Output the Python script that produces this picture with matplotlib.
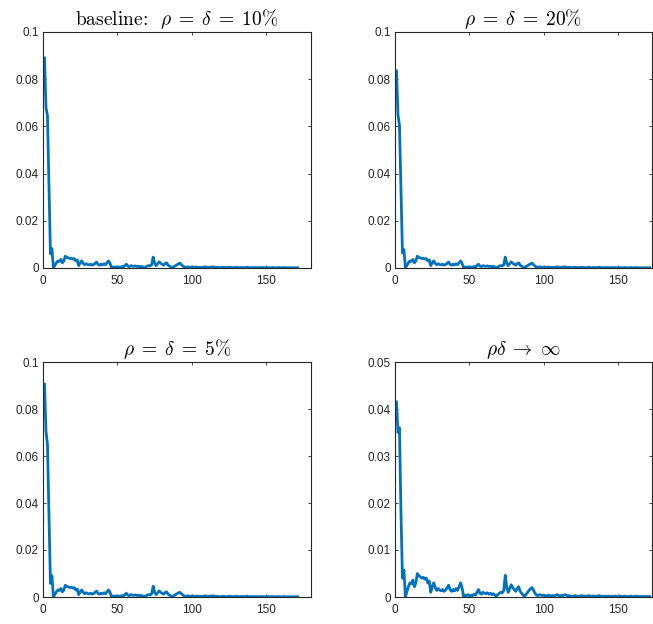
import matplotlib
matplotlib.use("Agg")
import matplotlib.pyplot as plt
import numpy as np

plt.rcParams['mathtext.fontset'] = 'cm'
plt.rcParams['font.family'] = ['Liberation Sans', 'DejaVu Sans']

# Heads (first 7 periods) for each scenario
head_base = [0.0890, 0.0680, 0.0645, 0.0350, 0.0060, 0.0082, 0.0000]
head_20 = [0.0835, 0.0650, 0.0605, 0.0330, 0.0065, 0.0078, 0.0000]
head_5 = [0.0906, 0.0705, 0.0650, 0.0350, 0.0058, 0.0090, 0.0000]
head_inf = [0.0415, 0.0350, 0.0360, 0.0180, 0.0040, 0.0057, 0.0000]

# Tail (periods 8..171), essentially the same in all panels
tail_common = [
    0.0012, 0.0022, 0.0030, 0.0028, 0.0036, 0.0022, 0.0030, 0.0050, 0.0045, 0.0043,
    0.0040, 0.0042, 0.0038, 0.0040, 0.0030, 0.0034, 0.0010, 0.0022, 0.0030, 0.0020,
    0.0014, 0.0018, 0.0015, 0.0013, 0.0016, 0.0012, 0.0015, 0.0020, 0.0025, 0.0015,
    0.0012, 0.0016, 0.0013, 0.0018, 0.0014, 0.0022, 0.0030, 0.0020, 0.0001, 0.0004,
    0.0003, 0.0005, 0.0002, 0.0004, 0.0003, 0.0006, 0.0004, 0.0010, 0.0016, 0.0008,
    0.0006, 0.0010, 0.0008, 0.0007, 0.0009, 0.0006, 0.0008, 0.0005, 0.0007, 0.0004,
    0.0002, 0.0005, 0.0008, 0.0010, 0.0009, 0.0014, 0.0046, 0.0020, 0.0010, 0.0018,
    0.0026, 0.0020, 0.0016, 0.0012, 0.0018, 0.0022, 0.0012, 0.0008, 0.0004, 0.0002,
    0.0006, 0.0010, 0.0014, 0.0018, 0.0020, 0.0014, 0.0008, 0.0004, 0.0003, 0.0005,
    0.0004, 0.0003, 0.0004, 0.0003, 0.0002, 0.0004, 0.0003, 0.0002, 0.0003, 0.0002,
    0.0004, 0.0005, 0.0003, 0.0002, 0.0004, 0.0003, 0.0005, 0.0004, 0.0002, 0.0003,
    0.0002, 0.0001, 0.0002, 0.0003, 0.0002, 0.0001, 0.0002, 0.0003, 0.0002, 0.0002,
    0.0001, 0.0002, 0.0003, 0.0002, 0.0001, 0.0002, 0.0002, 0.0001, 0.0002, 0.0003,
    0.0002, 0.0001, 0.0001, 0.0002, 0.0001, 0.0002, 0.0001, 0.0001, 0.0002, 0.0001,
    0.0002, 0.0001, 0.0001, 0.0002, 0.0001, 0.0001, 0.0002, 0.0001, 0.0001, 0.0001,
    0.0002, 0.0001, 0.0001, 0.0001, 0.0002, 0.0001, 0.0001, 0.0001, 0.0001, 0.0001,
    0.0001, 0.0001, 0.0001, 0.0001,
]

titles = [r'baseline:  $\rho\;=\;\delta\;=\;10\%$',
          r'$\rho\;=\;\delta\;=\;20\%$',
          r'$\rho\;=\;\delta\;=\;5\%$',
          r'$\rho\delta\;\rightarrow\;\infty$']
heads = [head_base, head_20, head_5, head_inf]
ymaxes = [0.1, 0.1, 0.1, 0.05]
yticks_list = [[0, 0.02, 0.04, 0.06, 0.08, 0.1],
               [0, 0.02, 0.04, 0.06, 0.08, 0.1],
               [0, 0.02, 0.04, 0.06, 0.08, 0.1],
               [0, 0.01, 0.02, 0.03, 0.04, 0.05]]
ytick_labels_list = [['0', '0.02', '0.04', '0.06', '0.08', '0.1'],
                     ['0', '0.02', '0.04', '0.06', '0.08', '0.1'],
                     ['0', '0.02', '0.04', '0.06', '0.08', '0.1'],
                     ['0', '0.01', '0.02', '0.03', '0.04', '0.05']]
xticks = [0, 50, 100, 150]
xtick_labels = ['0', '50', '100', '150']

W, H = 653, 624
fig = plt.figure(figsize=(W / 100, H / 100), dpi=100)

positions = [
    (43 / W, 1 - 268 / H, 268 / W, 236 / H, 180),
    (395 / W, 1 - 268 / H, 257 / W, 236 / H, 172.5),
    (43 / W, 1 - 597 / H, 268 / W, 235 / H, 180),
    (395 / W, 1 - 597 / H, 257 / W, 235 / H, 172.5),
]

blue = (0.0, 0.447, 0.741)
axcol = (0.15, 0.15, 0.15)

for i in range(4):
    x0, y0, w, h, xmax = positions[i]
    ax = fig.add_axes([x0, y0, w, h])
    y = np.array(heads[i] + tail_common)
    x = np.arange(1, len(y) + 1)
    ax.plot(x, y, color=blue, lw=2.0, solid_joinstyle='round')
    ax.set_xlim(0, xmax)
    ax.set_ylim(0, ymaxes[i])
    ax.set_xticks(xticks)
    ax.set_xticklabels(xtick_labels)
    ax.set_yticks(yticks_list[i])
    ax.set_yticklabels(ytick_labels_list[i])
    ax.tick_params(direction='in', length=2.2, width=0.6, colors=axcol,
                   labelsize=8.5, top=True, right=True)
    ax.tick_params(axis='x', pad=5)
    ax.tick_params(axis='y', pad=3)
    for s in ax.spines.values():
        s.set_color(axcol)
        s.set_linewidth(0.8)
    ax.set_title(titles[i], fontsize=14, pad=5, family='cmr10')

fig.savefig('out.png', dpi=100)
